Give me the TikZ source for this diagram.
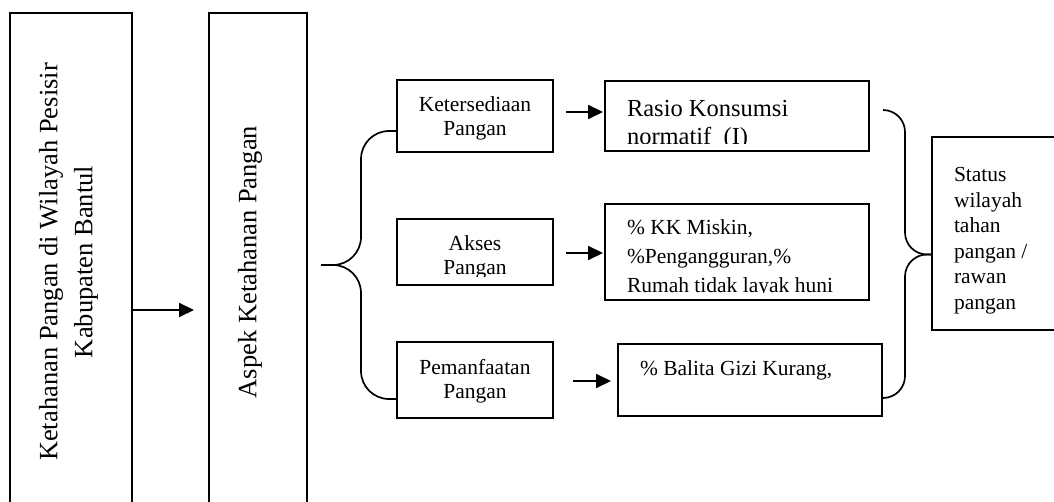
\documentclass[tikz,border=0pt]{standalone}
\usepackage{fontspec}
\setmainfont{Liberation Serif}
\usetikzlibrary{positioning, calc, arrows.meta}

\begin{document}
\begin{tikzpicture}[x=1pt,y=-1pt,on grid,
    kotak/.style={draw,line width=2pt,inner sep=0pt},
    isi/.style={inner sep=0pt,minimum width=0pt,minimum height=0pt},
    tegak/.style={kotak,minimum height=498pt,font=\fontsize{26.5pt}{35pt}\selectfont,
      path picture={\node[isi,rotate=90,anchor=north,align=center]
        at ([xshift=28pt]path picture bounding box.west) {#1};}},
    tengah/.style={kotak,minimum width=156pt,font=\fontsize{21.5pt}{24pt}\selectfont,
      path picture={\clip ([yshift=8pt]path picture bounding box.south west)
          rectangle (path picture bounding box.north east);
        \node[isi,anchor=north,align=center]
          at ([yshift=-16pt]path picture bounding box.north) {#1};}},
    kiri/.style 2 args={kotak,
      path picture={\clip ([yshift=7pt]path picture bounding box.south west)
          rectangle (path picture bounding box.north east);
        \node[isi,anchor=north west,align=left]
          at ([xshift=21pt,yshift=-#1]path picture bounding box.north west) {#2};}},
    panah/.style={line width=2pt,-{Triangle[length=15pt,width=14pt]}},
    kurung/.style={line width=1.7pt,rounded corners=#1}]

   \useasboundingbox (0,0) rectangle (1054,502);
   \clip (0,0) rectangle (1054,502);

   \node[tegak={Ketahanan Pangan di Wilayah Pesisir\\Kabupaten Bantul},minimum width=122pt] (main) at (71,262) {};
   \node[tegak={Aspek Ketahanan Pangan},minimum width=98pt] (aspek) [right=187pt of main] {};

   \node[tengah={Ketersediaan\\Pangan},minimum height=72pt] (keter) [above right=146pt and 217pt of aspek] {};
   \node[tengah={Akses\\Pangan},minimum height=66pt] (akses) [below=136pt of keter] {};
   \node[tengah={Pemanfaatan\\Pangan},minimum height=76pt] (pemanf) [below=128pt of akses] {};

   \node[kiri={18pt}{Rasio Konsumsi\\normatif~~(I)},minimum width=264pt,minimum height=70pt,
         font=\fontsize{24.5pt}{28pt}\selectfont] (rasio) [right=262pt of keter] {};
   \node[kiri={15pt}{\%~KK Miskin,\\\%Pengangguran,\%\\Rumah tidak layak huni},minimum width=264pt,minimum height=96pt,
         font=\fontsize{21.5pt}{29pt}\selectfont] (kk) [right=262pt of akses] {};
   \node[kiri={16pt}{\%~Balita Gizi Kurang,},minimum width=264pt,minimum height=72pt,
         font=\fontsize{21.5pt}{26pt}\selectfont] (balita) [right=275pt of pemanf] {};
   \node[kiri={29.5pt}{Status\\wilayah\\tahan\\pangan /\\rawan\\pangan},minimum width=132pt,minimum height=193pt,
         font=\fontsize{21.5pt}{25.5pt}\selectfont] (status) [above right=18.5pt and 261pt of kk] {};

   % arrows
   \draw[panah] ($(main.east)+(0,48)$) -- ($(aspek.west)+(-14,48)$);
   \draw[panah] ($(keter.east)+(12,-4)$) -- ($(rasio.west)+(-1,-4)$);
   \draw[panah] ($(akses.east)+(12,1)$) -- ($(kk.west)+(-1,1)$);
   \draw[panah] ($(pemanf.east)+(19,1)$) -- ($(balita.west)+(-6,1)$);

   % braces
   \coordinate (ujung kiri) at ($(aspek.east)+(13,3)$);
   \draw[kurung=28pt] ($(keter.west)+(0,15)$) -| ($(ujung kiri)+(40,0)$) -- (ujung kiri);
   \draw[kurung=28pt] ($(pemanf.west)+(0,19)$) -| ($(ujung kiri)+(40,0)$) -- (ujung kiri);

   \coordinate (ujung kanan) at ($(status.west)+(0,21)$);
   \draw[kurung=22pt] ($(rasio.east)+(13,-6)$) -| ($(ujung kanan)+(-26,0)$) -- (ujung kanan);
   \draw[kurung=22pt] ($(balita.east)+(0,18)$) -| ($(ujung kanan)+(-26,0)$) -- (ujung kanan);

\end{tikzpicture}
\end{document}
